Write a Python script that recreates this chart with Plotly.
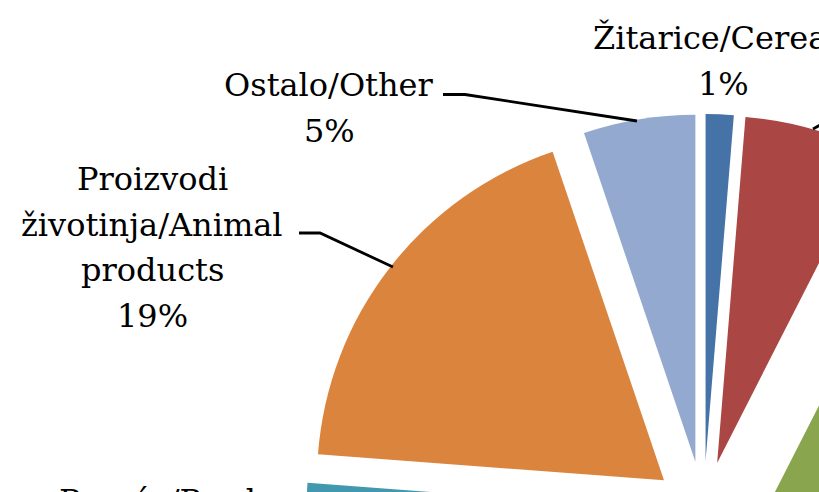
import plotly.graph_objects as go

# ---- data ----
labels = [
    "Žitarice/Cereals",
    "Voće/Fruit",
    "Industrijsko bilje/Industrial crops",
    "Vino/Wine",
    "Povrće/Produce",
    "Proizvodi životinja/Animal products",
    "Ostalo/Other",
]
values = [1.3, 6.2, 50.0, 17.7, 1.0, 18.6, 5.2]
colors = ["#4572A7", "#AA4643", "#89A54E", "#71588F", "#4198AF", "#DB843D", "#93A9CF"]
# how each label is wrapped on screen
label_lines = [
    ["Žitarice/Cereals"],
    ["Voće/Fruit"],
    ["Industrijsko bilje/", "Industrial crops"],
    ["Vino/Wine"],
    ["Povrće/Produce"],
    ["Proizvodi", "životinja/Animal", "products"],
    ["Ostalo/Other"],
]

# ---- layout geometry (page pixels) ----
W, H = 1200, 1000
CX, CY, R = 703.5, 511.0, 347.0
pull_px = [50, 50, 55, 50, 50, 50, 50]
pulls = [p / R for p in pull_px]
half = R * (1 + max(pulls))

# label block anchors: (center x, first baseline)
label_pos = [
    (723, 49),
    (1030, 90),
    (1120, 600),
    (420, 960),
    (186, 512),
    (152, 190),
    (329, 96),
]
LINE = 45.5
FONT = 32

total = sum(values)
fig = go.Figure(
    go.Pie(
        labels=labels,
        values=values,
        marker=dict(colors=colors, line=dict(width=0)),
        sort=False,
        direction="clockwise",
        rotation=0,
        pull=pulls,
        textinfo="none",
        hoverinfo="label+percent",
        showlegend=False,
        domain=dict(
            x=[(CX - half) / W, (CX + half) / W],
            y=[1 - (CY + half) / H, 1 - (CY - half) / H],
        ),
    )
)

annotations = []
for lines, v, (lx, by) in zip(label_lines, values, label_pos):
    texts = lines + [f"{round(v / total * 100):.0f}%"]
    for i, t in enumerate(texts):
        y = by + i * LINE - 11
        annotations.append(
            dict(
                x=lx / W, y=1 - y / H, xref="paper", yref="paper",
                text=t, showarrow=False, xanchor="center", yanchor="middle",
                font=dict(family="DejaVu Serif", size=FONT, color="black"),
            )
        )

leaders = [
    [(443, 94.5), (465, 94.5), (637, 121)],
    [(299, 233), (320, 233), (393, 267)],
    [(813, 129), (850, 108)],
]
shapes = []
for pts in leaders:
    path = "M " + " L ".join(f"{x / W:.5f},{1 - y / H:.5f}" for x, y in pts)
    shapes.append(dict(type="path", path=path, xref="paper", yref="paper",
                       line=dict(color="black", width=2.8)))

fig.update_layout(
    width=W, height=H,
    margin=dict(l=0, r=0, t=0, b=0),
    paper_bgcolor="white", plot_bgcolor="white",
    annotations=annotations,
    shapes=shapes,
)

fig.write_html(
    "out.html",
    post_script="document.body.style.margin='0';document.body.style.overflow='hidden';document.documentElement.style.overflow='hidden';",
)
